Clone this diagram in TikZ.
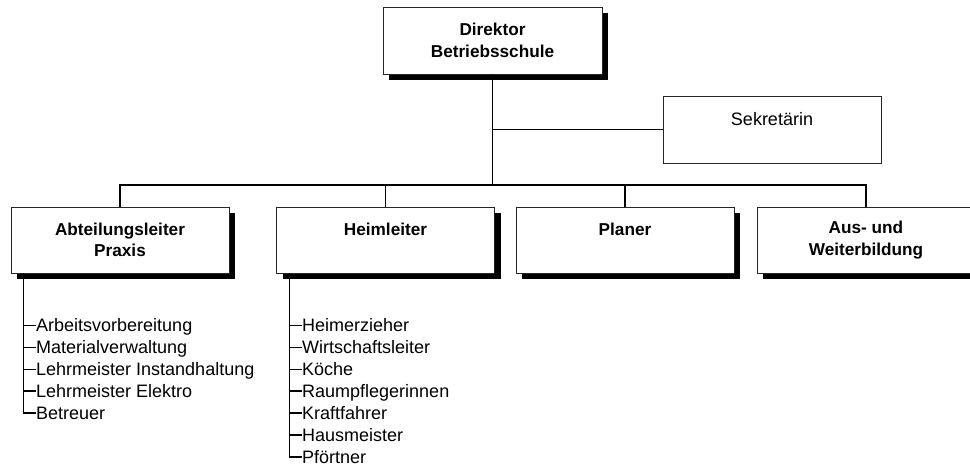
\documentclass[tikz,border=0pt]{standalone}
\usepackage{fontspec}
\setmainfont{Liberation Sans}
\usetikzlibrary{shadows,calc}
\begin{document}
\begin{tikzpicture}[x=1pt,y=-1pt,
  unit/.style={draw=black!85, line width=0.9pt, fill=white,
    minimum width=218pt, minimum height=66pt, inner sep=0pt, align=center,
    font=\fontsize{17.2}{21.5}\selectfont\bfseries},
  shadowed/.style={drop shadow={shadow xshift=6pt, shadow yshift=-6pt,
    fill=black, opacity=1}},
  staff/.style={unit, font=\fontsize{18}{21.5}\selectfont},
  link/.style={line width=1.8pt},
  item/.style={anchor=west, inner sep=0pt, text height=12.9pt,
    text depth=0pt, font=\fontsize{18}{22}\selectfont},
  tick/.style={line width=1.5pt}
]
\useasboundingbox (0,0) rectangle (970,467);
\clip (0,0) rectangle (970,467);

% management and staff position
\node[unit, shadowed, minimum width=219pt, minimum height=67pt] (dir) at (492.5,40.5)
  {Direktor\\Betriebsschule};
\node[staff, minimum height=67pt] (sek) at (772,129.5)
  {Sekretärin\\\phantom{Sekretärin}};

% department heads
\node[unit, shadowed] (abt)    at (120,240)   {Abteilungsleiter\\Praxis};
\node[unit, shadowed] (heim)   at (385.5,240) {Heimleiter\\\phantom{Heimleiter}};
\node[unit, shadowed] (planer) at (625,240)   {Planer\\\phantom{Planer}};
\node[unit, shadowed] (aus)    at (866,240)   {Aus- und\\Weiterbildung};

% reporting lines
\coordinate (bus) at (0,185);
\draw[link] (dir.south) -- (dir.south |- bus);
\draw[link] (dir.south |- sek.west) -- (sek.west);
\draw[link] (abt.north) |- (aus.north |- bus) -- (aus.north);
\draw[link] (heim.north) -- (heim.north |- bus);
\draw[link] (planer.north) -- (planer.north |- bus);

% sections under Abteilungsleiter Praxis
\node[item] (a1) at (36,325.5) {Arbeitsvorbereitung};
\node[item] (a2) at (36,347.4) {Materialverwaltung};
\node[item] (a3) at (36,369.3) {Lehrmeister Instandhaltung};
\node[item] (a4) at (36,391.2) {Lehrmeister Elektro};
\node[item] (a5) at (36,413.1) {Betreuer};
\coordinate (abtspine) at ($(abt.south west)+(13,0)$);
\draw[link] (abtspine) |- (a5.west);
\foreach \i in {1,...,4} \draw[tick] (a\i.west -| abtspine) -- (a\i.west);

% sections under Heimleiter
\node[item] (h1) at (302,325.5) {Heimerzieher};
\node[item] (h2) at (302,347.4) {Wirtschaftsleiter};
\node[item] (h3) at (302,369.3) {Köche};
\node[item] (h4) at (302,391.2) {Raumpflegerinnen};
\node[item] (h5) at (302,413.1) {Kraftfahrer};
\node[item] (h6) at (302,435) {Hausmeister};
\node[item] (h7) at (302,456.9) {Pförtner};
\coordinate (heimspine) at ($(heim.south west)+(13.5,0)$);
\draw[link] (heimspine) |- (h7.west);
\foreach \i in {1,...,6} \draw[tick] (h\i.west -| heimspine) -- (h\i.west);
\end{tikzpicture}
\end{document}
